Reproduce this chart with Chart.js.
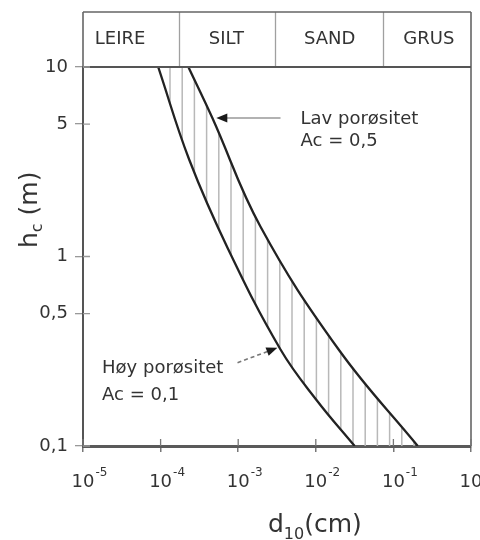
<!DOCTYPE html>
<html>
<head>
<meta charset="utf-8">
<script src="https://cdn.jsdelivr.net/npm/chart.js@4/dist/chart.umd.min.js"></script>
<style>
  html, body { margin: 0; padding: 0; background: #fff; overflow: hidden; }
  #c { display: block; }
</style>
</head>
<body>
<canvas id="c" width="480" height="540"></canvas>
<script>
/* ── Kapillær stighøyde h_c mot d10 ── */

// Lav porøsitet, Ac = 0,5
const lavD = [2.28e-4, 4.65e-4, 1.94e-3, 0.0197, 0.206];
const lavH = [10, 5.38, 1.435, 0.323, 0.1];

// Høy porøsitet, Ac = 0,1
const hoyD = [9.31e-5, 2.34e-4, 7.46e-4, 3.51e-3, 0.0102, 0.0317];
const hoyH = [10, 3.24, 1.09, 0.323, 0.175, 0.1];

// akser
const xTicks = [1e-5, 1e-4, 1e-3, 1e-2, 1e-1, 1];
const xTickExp = ['-5', '-4', '-3', '-2', '-1', ''];
const yTicks = [0.1, 0.5, 1, 5, 10];
const yTickLabels = ['0,1', '0,5', '1', '5', '10'];

// jordarter (grenser i cm)
const zoneNames = ['LEIRE', 'SILT', 'SAND', 'GRUS'];
const zoneEdges = [1e-5, 1.74e-4, 2.94e-3, 0.073, 1];
const zoneLabelAt = [3.0e-5, 7.05e-4, 0.0151, 0.286];

const FONT = '"DejaVu Sans", sans-serif';
const TEXT = '#333';
const HEADER_H = 55;

/* ── Tekst og piler i plottet (dataenheter) ── */
const notes = [
  { lines: ['Lav porøsitet', 'Ac = 0,5'], d: 6.36e-3, h: 5.0, lineGap: 22 },
  { lines: ['Høy porøsitet', 'Ac = 0,1'], d: 1.76e-5, h: 0.244, lineGap: 27 },
];
const arrows = [
  { from: [3.51e-3, 5.38], to: [5.22e-4, 5.38], dashed: false },
  { from: [9.8e-4, 0.275], to: [3.2e-3, 0.330], dashed: true },
];

function arrowHead(ctx, x0, y0, x1, y1) {
  const ang = Math.atan2(y1 - y0, x1 - x0);
  const len = 11, half = 4.5;
  ctx.beginPath();
  ctx.moveTo(x1, y1);
  ctx.lineTo(x1 - len * Math.cos(ang) + half * Math.sin(ang), y1 - len * Math.sin(ang) - half * Math.cos(ang));
  ctx.lineTo(x1 - len * Math.cos(ang) - half * Math.sin(ang), y1 - len * Math.sin(ang) + half * Math.cos(ang));
  ctx.closePath();
  ctx.fillStyle = '#1a1a1a';
  ctx.fill();
}

/* ── Skravering mellom kurvene ── */
const hatchPlugin = {
  id: 'hatch',
  beforeDatasetsDraw(chart) {
    const { ctx, chartArea: a } = chart;
    const l0 = chart.getDatasetMeta(0).dataset;
    const l1 = chart.getDatasetMeta(1).dataset;
    if (!l0.segments.length || !l1.segments.length) return;
    ctx.save();
    ctx.beginPath();
    l1.pathSegment(ctx, l1.segments[0]);
    l0.pathSegment(ctx, l0.segments[0], { move: false, reverse: true });
    ctx.closePath();
    ctx.clip();
    ctx.strokeStyle = '#b8b8b8';
    ctx.lineWidth = 1.5;
    ctx.beginPath();
    for (let px = a.left + 1.6; px < a.right; px += 12.2) {
      ctx.moveTo(px, a.top);
      ctx.lineTo(px, a.bottom);
    }
    ctx.stroke();
    ctx.restore();
  }
};

/* ── Ramme, topptabell, tekster ── */
const decorPlugin = {
  id: 'decor',
  afterDraw(chart) {
    const { ctx, chartArea: a, scales: { x, y } } = chart;
    const top = a.top - HEADER_H;
    ctx.save();

    // skillelinjer i tabellen
    ctx.strokeStyle = '#a0a0a0';
    ctx.lineWidth = 1.3;
    ctx.beginPath();
    zoneEdges.slice(1, -1).forEach(v => {
      const px = Math.round(x.getPixelForValue(v)) + 0.5;
      ctx.moveTo(px, top);
      ctx.lineTo(px, a.top);
    });
    ctx.stroke();

    // ytre ramme
    ctx.strokeStyle = '#666';
    ctx.lineWidth = 1.6;
    ctx.beginPath();
    ctx.moveTo(a.left, top);
    ctx.lineTo(a.right, top);
    ctx.moveTo(a.left, top);
    ctx.lineTo(a.left, a.top);
    ctx.moveTo(a.right, top);
    ctx.lineTo(a.right, a.bottom);
    ctx.stroke();
    ctx.strokeStyle = '#555';
    ctx.lineWidth = 2;
    ctx.beginPath();
    ctx.moveTo(a.left, a.top);
    ctx.lineTo(a.right, a.top);
    ctx.stroke();

    // tabelltekst
    ctx.fillStyle = TEXT;
    ctx.font = '18px ' + FONT;
    ctx.textAlign = 'center';
    ctx.textBaseline = 'middle';
    zoneNames.forEach((n, i) => {
      ctx.fillText(n, x.getPixelForValue(zoneLabelAt[i]), top + HEADER_H / 2);
    });

    // indre tikkstreker
    ctx.lineWidth = 1.3;
    ctx.strokeStyle = '#999';
    ctx.beginPath();
    yTicks.forEach(v => {
      const py = y.getPixelForValue(v);
      ctx.moveTo(a.left, py);
      ctx.lineTo(a.left + 7, py);
    });
    ctx.stroke();
    ctx.strokeStyle = '#777';
    ctx.beginPath();
    xTicks.forEach(v => {
      const px = x.getPixelForValue(v);
      ctx.moveTo(px, a.bottom);
      ctx.lineTo(px, a.bottom - 7);
    });
    ctx.stroke();

    // x-tikketekster 10^n
    ctx.textBaseline = 'alphabetic';
    xTicks.forEach((v, i) => {
      const px = x.getPixelForValue(v);
      ctx.font = '18px ' + FONT;
      ctx.textAlign = 'center';
      ctx.fillText('10', px, a.bottom + 41);
      const w = ctx.measureText('10').width;
      if (xTickExp[i]) {
        ctx.font = '12px ' + FONT;
        ctx.textAlign = 'left';
        ctx.fillText(xTickExp[i], px + w / 2 + 1, a.bottom + 30);
      }
    });

    // aksetitler
    ctx.textAlign = 'left';
    ctx.font = '25px ' + FONT;
    let tx = 268;
    ctx.fillText('d', tx, 532);
    tx += ctx.measureText('d').width;
    ctx.font = '16px ' + FONT;
    ctx.fillText('10', tx, 539);
    tx += ctx.measureText('10').width;
    ctx.font = '25px ' + FONT;
    ctx.fillText('(cm)', tx, 532);

    ctx.save();
    ctx.translate(37, 248);
    ctx.rotate(-Math.PI / 2);
    ctx.font = '25px ' + FONT;
    ctx.fillText('h', 0, 0);
    let ty = ctx.measureText('h').width;
    ctx.font = '16px ' + FONT;
    ctx.fillText('c', ty, 5);
    ty += ctx.measureText('c').width;
    ctx.font = '25px ' + FONT;
    ctx.fillText(' (m)', ty, 0);
    ctx.restore();

    // merknader
    ctx.font = '18px ' + FONT;
    ctx.fillStyle = TEXT;
    notes.forEach(n => {
      const px = x.getPixelForValue(n.d), py = y.getPixelForValue(n.h);
      n.lines.forEach((t, k) => ctx.fillText(t, px, py + k * n.lineGap));
    });
    arrows.forEach(ar => {
      const x0 = x.getPixelForValue(ar.from[0]), y0 = y.getPixelForValue(ar.from[1]);
      const x1 = x.getPixelForValue(ar.to[0]), y1 = y.getPixelForValue(ar.to[1]);
      const ang = Math.atan2(y1 - y0, x1 - x0);
      ctx.strokeStyle = ar.dashed ? '#777' : '#999';
      ctx.lineWidth = 1.6;
      ctx.setLineDash(ar.dashed ? [4, 3] : []);
      ctx.beginPath();
      ctx.moveTo(x0, y0);
      ctx.lineTo(x1 - 9 * Math.cos(ang), y1 - 9 * Math.sin(ang));
      ctx.stroke();
      ctx.setLineDash([]);
      arrowHead(ctx, x0, y0, x1, y1);
    });

    ctx.restore();
  }
};

const toPoints = (ds, hs) => ds.map((d, i) => ({ x: d, y: hs[i] }));

new Chart(document.getElementById('c'), {
  type: 'line',
  data: {
    datasets: [
      {
        label: 'Lav porøsitet',
        data: toPoints(lavD, lavH),
        borderColor: '#222',
        borderWidth: 2.3,
        pointRadius: 0,
        tension: 0.4,
        fill: false,
      },
      {
        label: 'Høy porøsitet',
        data: toPoints(hoyD, hoyH),
        borderColor: '#222',
        borderWidth: 2.3,
        pointRadius: 0,
        tension: 0.4,
        fill: false,
      }
    ]
  },
  options: {
    responsive: false,
    animation: false,
    layout: { padding: { top: 67, right: 9, left: 0, bottom: 0 } },
    plugins: { legend: { display: false }, tooltip: { enabled: false } },
    scales: {
      x: {
        type: 'logarithmic',
        min: 1e-5,
        max: 1,
        afterBuildTicks: s => { s.ticks = xTicks.map(v => ({ value: v })); },
        afterFit: s => { s.height = 94; },
        ticks: { display: false },
        grid: { drawOnChartArea: false, tickLength: 6, color: '#777', lineWidth: 1.5 },
        border: { color: '#5a5a5a', width: 3 },
      },
      y: {
        type: 'logarithmic',
        min: 0.1,
        max: 10,
        afterBuildTicks: s => { s.ticks = yTicks.map(v => ({ value: v })); },
        afterFit: s => { s.width = 83; },
        ticks: {
          font: { family: FONT, size: 18 },
          color: TEXT,
          padding: 7,
          callback: v => yTickLabels[yTicks.indexOf(v)],
        },
        grid: { drawOnChartArea: false, tickLength: 8, color: '#999', lineWidth: 1.3 },
        border: { color: '#555', width: 2 },
      }
    }
  },
  plugins: [hatchPlugin, decorPlugin]
});
</script>
</body>
</html>
